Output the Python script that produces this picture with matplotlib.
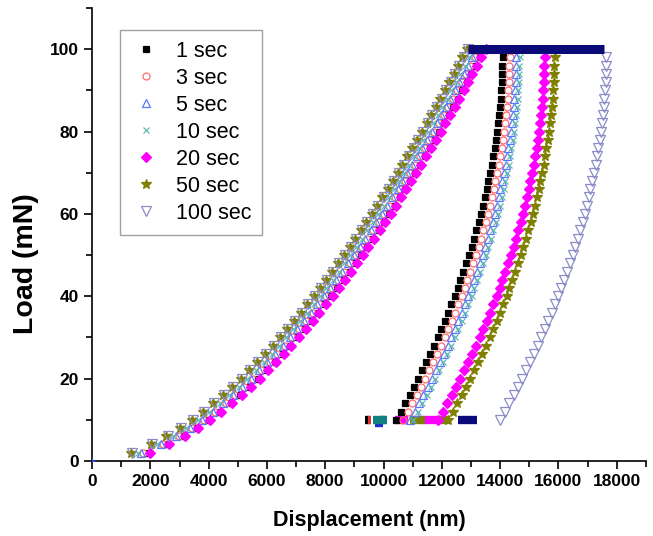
import matplotlib
matplotlib.use("Agg")
from matplotlib import pyplot as plt
from matplotlib.ticker import MultipleLocator

plt.rcParams['font.family'] = ['Liberation Sans', 'DejaVu Sans']

# series names
labels = ["1 sec", "3 sec", "5 sec", "10 sec", "20 sec", "50 sec", "100 sec"]

# load steps (mN)
load_up = [2, 4, 6, 8, 10, 12, 14, 16, 18, 20, 22, 24, 26, 28, 30, 32, 34, 36, 38, 40,
           42, 44, 46, 48, 50, 52, 54, 56, 58, 60, 62, 64, 66, 68, 70, 72, 74, 76, 78, 80,
           82, 84, 86, 88, 90, 92, 94, 96, 98, 100]
load_down = [98, 96, 94, 92, 90, 88, 86, 84, 82, 80, 78, 76, 74, 72, 70, 68, 66, 64, 62, 60,
             58, 56, 54, 52, 50, 48, 46, 44, 42, 40, 38, 36, 34, 32, 30, 28, 26, 24, 22, 20,
             18, 16, 14, 12, 10]

# loading depths (nm)
up_1s = [1940, 2610, 3150, 3610, 4020, 4400, 4760, 5090, 5410, 5710, 5990, 6270, 6540, 6800, 7050, 7290, 7530, 7760, 7980, 8210,
         8420, 8630, 8840, 9040, 9240, 9440, 9630, 9830, 10010, 10200, 10380, 10560, 10740, 10910, 11080, 11250, 11420, 11590, 11750, 11920,
         12080, 12240, 12400, 12550, 12710, 12860, 13010, 13160, 13310, 13460]
up_3s = [1760, 2430, 2970, 3430, 3840, 4220, 4580, 4910, 5230, 5530, 5810, 6090, 6360, 6620, 6870, 7110, 7350, 7580, 7800, 8030,
         8240, 8450, 8660, 8860, 9060, 9260, 9450, 9650, 9830, 10020, 10200, 10380, 10560, 10730, 10900, 11070, 11240, 11410, 11570, 11740,
         11900, 12060, 12220, 12370, 12530, 12680, 12830, 12980, 13130, 13280]
up_5s = [1680, 2350, 2890, 3350, 3760, 4140, 4500, 4830, 5150, 5450, 5730, 6010, 6280, 6540, 6790, 7030, 7270, 7500, 7720, 7950,
         8160, 8370, 8580, 8780, 8980, 9180, 9370, 9570, 9750, 9940, 10120, 10300, 10480, 10650, 10820, 10990, 11160, 11330, 11490, 11660,
         11820, 11980, 12140, 12290, 12450, 12600, 12750, 12900, 13050, 13200]
up_10s = [1560, 2230, 2770, 3230, 3640, 4020, 4380, 4710, 5030, 5330, 5610, 5890, 6160, 6420, 6670, 6910, 7150, 7380, 7600, 7830,
          8040, 8250, 8460, 8660, 8860, 9060, 9250, 9450, 9630, 9820, 10000, 10180, 10360, 10530, 10700, 10870, 11040, 11210, 11370, 11540,
          11700, 11860, 12020, 12170, 12330, 12480, 12630, 12780, 12930, 13080]
up_20s = [1980, 2650, 3190, 3650, 4060, 4440, 4800, 5130, 5450, 5750, 6030, 6310, 6580, 6840, 7090, 7330, 7570, 7800, 8020, 8250,
          8460, 8670, 8880, 9080, 9280, 9480, 9670, 9870, 10050, 10240, 10420, 10600, 10780, 10950, 11120, 11290, 11460, 11630, 11790, 11960,
          12120, 12280, 12440, 12590, 12750, 12900, 13050, 13200, 13350, 13500]
up_50s = [1340, 2010, 2550, 3010, 3420, 3800, 4160, 4490, 4810, 5110, 5390, 5670, 5940, 6200, 6450, 6690, 6930, 7160, 7380, 7610,
          7820, 8030, 8240, 8440, 8640, 8840, 9030, 9230, 9410, 9600, 9780, 9960, 10140, 10310, 10480, 10650, 10820, 10990, 11150, 11320,
          11480, 11640, 11800, 11950, 12110, 12260, 12410, 12560, 12710, 12860]
up_100s = [1380, 2050, 2590, 3050, 3460, 3840, 4200, 4530, 4850, 5150, 5430, 5710, 5980, 6240, 6490, 6730, 6970, 7200, 7420, 7650,
           7860, 8070, 8280, 8480, 8680, 8880, 9070, 9270, 9450, 9640, 9820, 10000, 10180, 10350, 10520, 10690, 10860, 11030, 11190, 11360,
           11520, 11680, 11840, 11990, 12150, 12300, 12450, 12600, 12750, 12900]

# unloading depths (nm)
down_1s = [14090, 14080, 14070, 14060, 14040, 14020, 13990, 13960, 13930, 13900, 13860, 13810, 13770, 13720, 13660, 13600, 13540, 13480, 13410, 13340,
           13270, 13190, 13100, 13020, 12930, 12840, 12740, 12640, 12540, 12440, 12330, 12210, 12100, 11980, 11860, 11730, 11600, 11470, 11330, 11190,
           11050, 10900, 10750, 10600, 10440]
down_3s = [14330, 14320, 14310, 14300, 14280, 14260, 14230, 14200, 14170, 14140, 14100, 14050, 14010, 13960, 13900, 13840, 13780, 13720, 13650, 13580,
           13510, 13430, 13340, 13260, 13170, 13080, 12980, 12880, 12780, 12680, 12570, 12450, 12340, 12220, 12100, 11970, 11840, 11710, 11570, 11430,
           11290, 11140, 10990, 10840, 10680]
down_5s = [14560, 14550, 14540, 14530, 14510, 14490, 14460, 14430, 14400, 14370, 14330, 14280, 14240, 14190, 14130, 14070, 14010, 13950, 13880, 13810,
           13740, 13660, 13570, 13490, 13400, 13310, 13210, 13110, 13010, 12910, 12800, 12680, 12570, 12450, 12330, 12200, 12070, 11940, 11800, 11660,
           11520, 11370, 11220, 11070, 10910]
down_10s = [14670, 14660, 14650, 14640, 14620, 14600, 14570, 14540, 14510, 14480, 14440, 14390, 14350, 14300, 14240, 14180, 14120, 14060, 13990, 13920,
            13850, 13770, 13680, 13600, 13510, 13420, 13320, 13220, 13120, 13020, 12910, 12790, 12680, 12560, 12440, 12310, 12180, 12050, 11910, 11770,
            11630, 11480, 11330, 11180, 11020]
down_20s = [15530, 15520, 15510, 15500, 15480, 15460, 15430, 15400, 15370, 15340, 15300, 15250, 15210, 15160, 15100, 15040, 14980, 14920, 14850, 14780,
            14710, 14630, 14540, 14460, 14370, 14280, 14180, 14080, 13980, 13880, 13770, 13650, 13540, 13420, 13300, 13170, 13040, 12910, 12770, 12630,
            12490, 12340, 12190, 12040, 11880]
down_50s = [15870, 15860, 15850, 15840, 15820, 15800, 15770, 15740, 15710, 15680, 15640, 15590, 15550, 15500, 15440, 15380, 15320, 15260, 15190, 15120,
            15050, 14970, 14880, 14800, 14710, 14620, 14520, 14420, 14320, 14220, 14110, 13990, 13880, 13760, 13640, 13510, 13380, 13250, 13110, 12970,
            12830, 12680, 12530, 12380, 12220]
down_100s = [17650, 17640, 17630, 17620, 17600, 17580, 17550, 17520, 17490, 17460, 17420, 17370, 17330, 17280, 17220, 17160, 17100, 17040, 16970, 16900,
             16830, 16750, 16660, 16580, 16490, 16400, 16300, 16200, 16100, 16000, 15890, 15770, 15660, 15540, 15420, 15290, 15160, 15030, 14890, 14750,
             14610, 14460, 14310, 14160, 14000]

# creep hold at max load (start, end depth) - 100 sec one is the dark band
hold_top_100s = [12900, 17560]
hold_top_load = 100

# thermal drift holds near 10 mN: (load, [(from, to), ...])
drift_1s = (10, [(9360, 9520), (9870, 10040)])
drift_3s = (10, [(9480, 9560)])
drift_5s = (9.2, [(9700, 9980)])
drift_10s = (10, [(9630, 10110)])
drift_20s = (10, [(10390, 10830), (11350, 11830)])
drift_50s = (10, [(10900, 11420), (11860, 12270)])
drift_100s = (10, [(12550, 13200)])

ups = [up_1s, up_3s, up_5s, up_10s, up_20s, up_50s, up_100s]
downs = [down_1s, down_3s, down_5s, down_10s, down_20s, down_50s, down_100s]
drifts = [drift_1s, drift_3s, drift_5s, drift_10s, drift_20s, drift_50s, drift_100s]

# marker styles (marker, face, edge, size)
styles = [
    ("s", "black", "black", 5.0),
    ("o", "none", "#FF6A6A", 5.0),
    ("^", "none", "#5A78FF", 6.0),
    ("x", "none", "#5FB8B0", 5.0),
    ("D", "#FF00FF", "#FF00FF", 5.5),
    ("*", "#808000", "#808000", 7.0),
    ("v", "none", "#8C8CC8", 7.0),
]
drift_colors = ["black", "#E03030", "#1830D0", "#108080", "#FF00FF", "#808000", "#0A0A78"]

fig = plt.figure(figsize=(6.53, 5.36), dpi=100)
ax = fig.add_axes([0.141, 0.140, 0.848, 0.845])

handles = []
for lab, up, dn, dr, dc, (m, fc, ec, ms) in zip(labels, ups, downs, drifts, drift_colors, styles):
    # drift hold segments at ~10 mN
    lvl, segs = dr
    for a, b in segs:
        ax.plot([a, b], [lvl, lvl], color=dc, lw=6, solid_capstyle="butt", zorder=2)
    h, = ax.plot(up, load_up, linestyle="none", marker=m, markerfacecolor=fc,
                 markeredgecolor=ec, markersize=ms, markeredgewidth=0.9, label=lab, zorder=3)
    ax.plot(dn, load_down, linestyle="none", marker=m, markerfacecolor=fc,
            markeredgecolor=ec, markersize=ms, markeredgewidth=0.9, zorder=3)
    handles.append(h)

# dark creep band at max load
ax.plot(hold_top_100s, [hold_top_load, hold_top_load], color="#0A0A78", lw=6.5,
        solid_capstyle="butt", zorder=4)
ax.plot([0], [0], marker="+", color="#3050FF", markersize=5, zorder=4)

ax.set_xlim(0, 19000)
ax.set_ylim(0, 110)
ax.spines["top"].set_visible(False)
ax.spines["right"].set_visible(False)
ax.spines["left"].set_linewidth(1.2)
ax.spines["bottom"].set_linewidth(1.2)

ax.xaxis.set_major_locator(MultipleLocator(2000))
ax.xaxis.set_minor_locator(MultipleLocator(1000))
ax.yaxis.set_major_locator(MultipleLocator(20))
ax.yaxis.set_minor_locator(MultipleLocator(10))
ax.tick_params(which="major", direction="out", length=6, width=1.2, labelsize=12.5)
ax.tick_params(which="minor", direction="out", length=4, width=1.2)
for t in ax.get_xticklabels() + ax.get_yticklabels():
    t.set_fontweight("bold")

ax.set_xlabel("Displacement (nm)", fontsize=15.5, fontweight="bold", labelpad=15)
ax.set_ylabel("Load (mN)", fontsize=20.5, fontweight="bold")
ax.yaxis.set_label_coords(-0.095, 0.435)

leg = ax.legend(handles=handles, loc="upper left", bbox_to_anchor=(0.184, 0.944),
                bbox_transform=fig.transFigure, fontsize=15.5, frameon=True, fancybox=False,
                edgecolor="#888888", labelspacing=0.28, handletextpad=0.7,
                handlelength=1.4, borderpad=0.5, borderaxespad=0)
leg.get_frame().set_linewidth(1.0)

fig.savefig("out.png", dpi=100)
